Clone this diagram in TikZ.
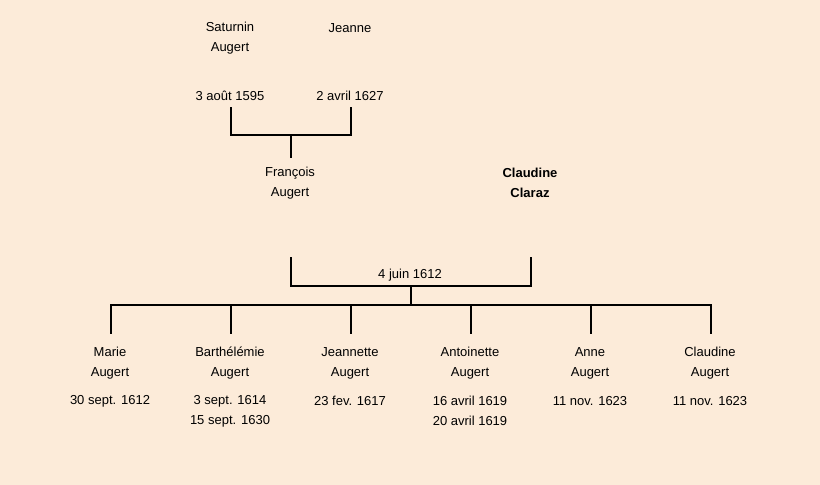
\documentclass[tikz,border=0pt]{standalone}
\usepackage{fontspec}
\setmainfont{Liberation Sans}
\definecolor{bg}{RGB}{252,235,217}
\begin{document}
\begin{tikzpicture}[x=1pt,y=-1pt,
  lbl/.style={inner sep=0pt,align=center,font=\fontsize{13}{20}\selectfont},
  con/.style={line width=2pt,line cap=rect}]
\fill[bg] (0,0) rectangle (820,485);
\useasboundingbox (0,0) rectangle (820,485);
% grandparents
\node[lbl] (sat) at (230,38) {Saturnin\\Augert};
\node[lbl] (jea) at (350,28) {Jeanne};
\node[lbl] (satd) at (230,96) {3 août 1595};
\node[lbl] (jead) at (350,96) {2 avril 1627};
\coordinate (g1t) at (231,108);
\coordinate (g2t) at (351,108);
\coordinate (g1b) at (231,135);
\coordinate (g2b) at (351,135);
\coordinate (gm) at (291,135);
\coordinate (gd) at (291,157);
\draw[con] (g1t) -- (g1b) -- (g2b) -- (g2t);
\draw[con] (gm) -- (gd);
% parents
\node[lbl] (fra) at (290,183) {François\\Augert};
\node[lbl,font=\fontsize{13}{20}\selectfont\bfseries] (cla) at (530,183) {Claudine\\Claraz};
\coordinate (p1t) at (291,258);
\coordinate (p2t) at (531,258);
\coordinate (p1b) at (291,286);
\coordinate (p2b) at (531,286);
\coordinate (pm) at (411,286);
\coordinate (pd) at (411,305);
\node[lbl] (mar) at (410,275) {4 juin 1612};
\draw[con] (p1t) -- (p1b) -- (p2b) -- (p2t);
\draw[con] (pm) -- (pd);
% children bar
\coordinate (cl) at (111,305);
\coordinate (cr) at (711,305);
\draw[con] (cl) -- (cr);
\foreach \x/\n in {111/c1,231/c2,351/c3,471/c4,591/c5,711/c6}{
  \coordinate (\n t) at (\x,305);
  \coordinate (\n b) at (\x,333);
  \draw[con] (\n t) -- (\n b);
}
% children
\node[lbl] (k1) at (110,363) {Marie\\Augert};
\node[lbl] (k2) at (230,363) {Barthélémie\\Augert};
\node[lbl] (k3) at (350,363) {Jeannette\\Augert};
\node[lbl] (k4) at (470,363) {Antoinette\\Augert};
\node[lbl] (k5) at (590,363) {Anne\\Augert};
\node[lbl] (k6) at (710,363) {Claudine\\Augert};
\node[lbl] (d1) at (110,401) {30 sept. 1612};
\node[lbl] (d2) at (230,411) {3 sept. 1614\\15 sept. 1630};
\node[lbl] (d3) at (350,401) {23 fev. 1617};
\node[lbl] (d4) at (470,411) {16 avril 1619\\20 avril 1619};
\node[lbl] (d5) at (590,401) {11 nov. 1623};
\node[lbl] (d6) at (710,401) {11 nov. 1623};
\end{tikzpicture}
\end{document}
